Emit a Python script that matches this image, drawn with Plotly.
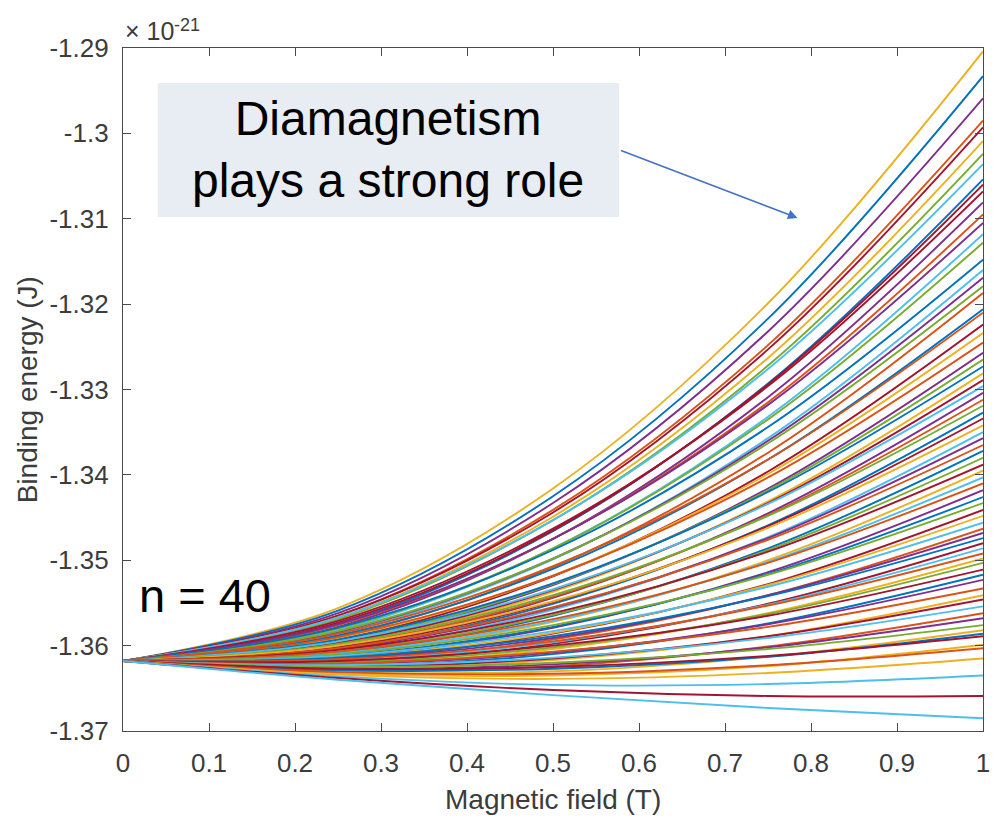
import plotly.graph_objects as go

# ---------------- data (energies in units of 1e-21 J) ----------------
b_field = [0, 0.25, 0.5, 0.75, 1.0]          # magnetic field (T)
e_start = -1.3618                            # common binding energy at B = 0

# binding energy of each state at B = 0.25, 0.5, 0.75, 1.0 T
energies = [
    [-1.3556, -1.3416, -1.3199, -1.2904],
    [-1.3559, -1.3425, -1.3217, -1.2933],
    [-1.3562, -1.3433, -1.3232, -1.2959],
    [-1.3565, -1.3441, -1.3248, -1.2985],
    [-1.3565, -1.3444, -1.3253, -1.2993],
    [-1.3567, -1.3449, -1.3263, -1.3009],
    [-1.3569, -1.3453, -1.3272, -1.3024],
    [-1.3567, -1.3453, -1.3276, -1.3036],
    [-1.3575, -1.3466, -1.3293, -1.3054],
    [-1.3573, -1.3465, -1.3294, -1.3060],
    [-1.3571, -1.3463, -1.3296, -1.3068],
    [-1.3578, -1.3475, -1.3309, -1.3081],
    [-1.3576, -1.3475, -1.3315, -1.3095],
    [-1.3575, -1.3475, -1.3318, -1.3105],
    [-1.3582, -1.3486, -1.3332, -1.3118],
    [-1.3580, -1.3486, -1.3335, -1.3128],
    [-1.3579, -1.3488, -1.3344, -1.3148],
    [-1.3586, -1.3499, -1.3357, -1.3160],
    [-1.3584, -1.3498, -1.3360, -1.3169],
    [-1.3583, -1.3498, -1.3363, -1.3179],
    [-1.3589, -1.3508, -1.3374, -1.3187],
    [-1.3588, -1.3510, -1.3382, -1.3206],
    [-1.3586, -1.3507, -1.3382, -1.3210],
    [-1.3593, -1.3519, -1.3396, -1.3224],
    [-1.3591, -1.3518, -1.3399, -1.3234],
    [-1.3590, -1.3518, -1.3403, -1.3245],
    [-1.3597, -1.3529, -1.3416, -1.3257],
    [-1.3595, -1.3528, -1.3418, -1.3265],
    [-1.3593, -1.3527, -1.3420, -1.3273],
    [-1.3599, -1.3537, -1.3431, -1.3281],
    [-1.3597, -1.3535, -1.3433, -1.3289],
    [-1.3595, -1.3534, -1.3434, -1.3296],
    [-1.3602, -1.3544, -1.3445, -1.3304],
    [-1.3600, -1.3543, -1.3447, -1.3312],
    [-1.3598, -1.3541, -1.3448, -1.3319],
    [-1.3604, -1.3551, -1.3459, -1.3327],
    [-1.3602, -1.3549, -1.3460, -1.3334],
    [-1.3600, -1.3548, -1.3462, -1.3342],
    [-1.3607, -1.3558, -1.3473, -1.3350],
    [-1.3604, -1.3556, -1.3474, -1.3357],
    [-1.3603, -1.3555, -1.3476, -1.3365],
    [-1.3609, -1.3565, -1.3486, -1.3372],
    [-1.3607, -1.3564, -1.3488, -1.3380],
    [-1.3605, -1.3562, -1.3490, -1.3388],
    [-1.3611, -1.3572, -1.3500, -1.3395],
    [-1.3609, -1.3571, -1.3502, -1.3403],
    [-1.3607, -1.3569, -1.3503, -1.3410],
    [-1.3614, -1.3579, -1.3514, -1.3418],
    [-1.3612, -1.3578, -1.3516, -1.3426],
    [-1.3610, -1.3576, -1.3517, -1.3433],
    [-1.3616, -1.3586, -1.3528, -1.3441],
    [-1.3614, -1.3585, -1.3529, -1.3448],
    [-1.3612, -1.3583, -1.3531, -1.3456],
    [-1.3619, -1.3593, -1.3541, -1.3463],
    [-1.3616, -1.3591, -1.3541, -1.3468],
    [-1.3614, -1.3589, -1.3542, -1.3474],
    [-1.3620, -1.3598, -1.3551, -1.3480],
    [-1.3618, -1.3596, -1.3552, -1.3486],
    [-1.3616, -1.3595, -1.3553, -1.3492],
    [-1.3622, -1.3604, -1.3562, -1.3498],
    [-1.3620, -1.3602, -1.3563, -1.3503],
    [-1.3618, -1.3600, -1.3565, -1.3511],
    [-1.3624, -1.3610, -1.3574, -1.3517],
    [-1.3622, -1.3608, -1.3575, -1.3523],
    [-1.3621, -1.3607, -1.3578, -1.3533],
    [-1.3627, -1.3617, -1.3589, -1.3541],
    [-1.3625, -1.3615, -1.3589, -1.3546],
    [-1.3623, -1.3614, -1.3591, -1.3554],
    [-1.3629, -1.3624, -1.3601, -1.3562],
    [-1.3627, -1.3622, -1.3602, -1.3568],
    [-1.3625, -1.3620, -1.3604, -1.3576],
    [-1.3631, -1.3630, -1.3613, -1.3582],
    [-1.3629, -1.3627, -1.3613, -1.3586],
    [-1.3627, -1.3625, -1.3612, -1.3589],
    [-1.3633, -1.3635, -1.3624, -1.3599],
    [-1.3631, -1.3633, -1.3623, -1.3603],
    [-1.3634, -1.3639, -1.3632, -1.3615],
    [-1.3636, -1.3646, -1.3645, -1.3635],
    [-1.3638, -1.3652, -1.3659, -1.3659],
    [-1.3640, -1.3658, -1.3673, -1.3685],
]

# MATLAB default colour order and the colour used by each state above
matlab_colors = ['#0072BD', '#D95319', '#EDB120', '#7E2F8E', '#77AC30', '#4DBEEE', '#A2142F']
color_index = [
    2, 0, 3, 1, 6, 2, 4, 5, 0, 6,
    6, 3, 1, 3, 5, 4, 0, 5, 3, 4, 1, 0, 1, 6, 2, 1, 3, 4, 0,
    2, 6, 5, 3, 1, 4, 0, 6, 2, 5, 3, 1, 0, 4, 6, 2, 5, 1, 3, 0, 4, 6, 2, 5, 1,
    3, 0, 6, 5, 1, 2, 4, 6, 0, 3, 1, 2, 6, 5, 1, 3, 4, 2, 0, 6, 2, 1, 2, 5, 6, 5,
]

x_ticks = [0, 0.1, 0.2, 0.3, 0.4, 0.5, 0.6, 0.7, 0.8, 0.9, 1.0]
x_tick_text = ['0', '0.1', '0.2', '0.3', '0.4', '0.5', '0.6', '0.7', '0.8', '0.9', '1']
y_ticks = [-1.37, -1.36, -1.35, -1.34, -1.33, -1.32, -1.31, -1.30, -1.29]
y_tick_text = ['-1.37', '-1.36', '-1.35', '-1.34', '-1.33', '-1.32', '-1.31', '-1.3', '-1.29']

# ---------------- figure ----------------
fig = go.Figure()
for vals, ci in zip(energies, color_index):
    fig.add_trace(go.Scatter(
        x=b_field, y=[e_start] + vals, mode='lines',
        line=dict(color=matlab_colors[ci], width=1.9, shape='spline', smoothing=1),
        showlegend=False, hoverinfo='skip'))

axis_col = '#4a4a4a'
txt_col = '#3c3c3c'
FONT = 'Liberation Sans, Arial, Helvetica, sans-serif'

fig.update_layout(
    width=999, height=822,
    margin=dict(l=123, r=9, t=48, b=91),
    plot_bgcolor='white', paper_bgcolor='white',
    font=dict(family=FONT, color=txt_col),
    showlegend=False,
)
fig.update_xaxes(
    range=[0, 1], tickvals=x_ticks, ticktext=x_tick_text,
    ticks='inside', ticklen=8, tickwidth=1, tickcolor=axis_col,
    showline=True, linecolor=axis_col, linewidth=1.3, mirror='allticks',
    showgrid=False, zeroline=False, tickfont=dict(size=26, color=txt_col),
    ticklabelstandoff=9,
)
fig.update_yaxes(
    range=[-1.37, -1.29], tickvals=y_ticks, ticktext=y_tick_text,
    ticks='inside', ticklen=8, tickwidth=1, tickcolor=axis_col,
    showline=True, linecolor=axis_col, linewidth=1.3, mirror='allticks',
    showgrid=False, zeroline=False, tickfont=dict(size=26, color=txt_col),
    ticklabelstandoff=8,
)

# axis titles and exponent label
fig.add_annotation(xref='paper', yref='paper', x=0.5, y=-0.101, text='Magnetic field (T)',
                   showarrow=False, xanchor='center', yanchor='middle',
                   font=dict(size=28, color=txt_col, family=FONT))
fig.add_annotation(xref='paper', yref='paper', x=-0.1107, y=0.5, text='Binding energy (J)',
                   showarrow=False, xanchor='center', yanchor='middle', textangle=-90,
                   font=dict(size=28, color=txt_col, family=FONT))
fig.add_annotation(xref='paper', yref='paper', x=0.0, y=1.0015, text='× 10',
                   showarrow=False, xanchor='left', yanchor='bottom',
                   font=dict(size=25, color=txt_col, family=FONT))
fig.add_annotation(xref='paper', yref='paper', x=0.0565, y=1.016, text='-21',
                   showarrow=False, xanchor='left', yanchor='bottom',
                   font=dict(size=18, color=txt_col, family=FONT))

# callout box
fig.add_shape(type='rect', xref='paper', yref='paper', x0=0.0404, x1=0.5767, y0=0.7526, y1=0.9488,
              fillcolor='#E8ECF3', line=dict(width=0), layer='above')
fig.add_annotation(xref='paper', yref='paper', x=0.3085, y=0.8507,
                   text='Diamagnetism<br>plays a strong role', showarrow=False,
                   xanchor='center', yanchor='middle', align='center',
                   font=dict(size=48, color='black', family=FONT))
# arrow from the box to the top of the fan
fig.add_annotation(xref='paper', yref='paper', x=0.7843, y=0.7511,
                   ax=-178, ay=-68, axref='pixel', ayref='pixel',
                   text='', showarrow=True, arrowhead=2, arrowsize=1.2, arrowwidth=1.6,
                   arrowcolor='#4472C4')
# n = 40 label
fig.add_annotation(xref='paper', yref='paper', x=0.0161, y=0.199, text='n = 40',
                   showarrow=False, xanchor='left', yanchor='middle',
                   font=dict(size=47, color='black', family=FONT))

fig.write_html('out.html')
